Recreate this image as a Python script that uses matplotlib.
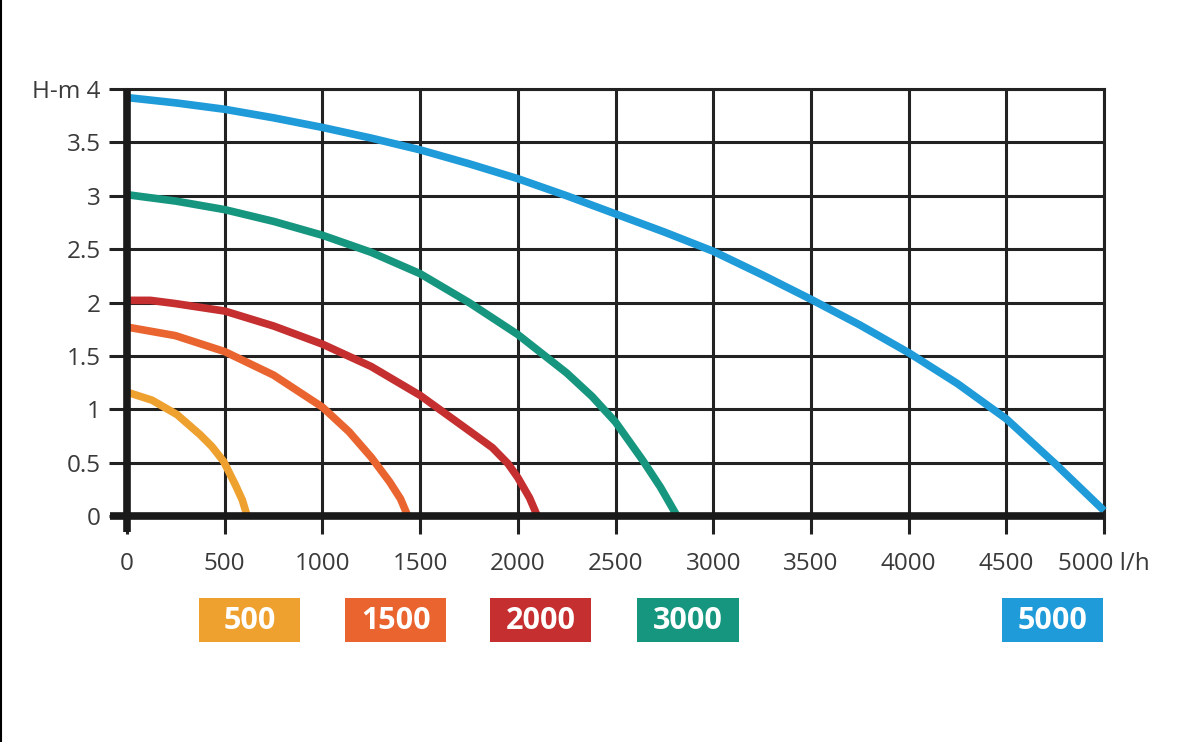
import matplotlib
matplotlib.use("Agg")
import matplotlib.pyplot as plt
import matplotlib.transforms as mtransforms
from matplotlib.patches import Rectangle
from matplotlib.lines import Line2D

plt.rcParams['font.family'] = ['Open Sans', 'DejaVu Sans']

# pump curves, flow in l/h, head in m
flow_500 = [0, 128, 256, 375, 435, 495, 555, 590, 615]
head_500 = [1.16, 1.085, 0.95, 0.76, 0.65, 0.51, 0.29, 0.15, 0.0]

flow_1500 = [0, 247, 500, 750, 1000, 1136, 1250, 1344, 1400, 1437]
head_1500 = [1.77, 1.69, 1.54, 1.32, 1.02, 0.79, 0.55, 0.32, 0.16, 0.0]

flow_2000 = [0, 120, 247, 500, 750, 1000, 1250, 1500, 1750, 1870, 1950, 2000, 2060, 2100]
head_2000 = [2.02, 2.02, 1.99, 1.92, 1.78, 1.61, 1.40, 1.13, 0.80, 0.64, 0.49, 0.36, 0.17, 0.0]

flow_3000 = [0, 250, 500, 750, 1000, 1250, 1500, 1750, 2000, 2250, 2380, 2500, 2640, 2730, 2815]
head_3000 = [3.01, 2.95, 2.87, 2.76, 2.63, 2.47, 2.27, 2.00, 1.70, 1.34, 1.12, 0.88, 0.52, 0.27, 0.0]

flow_5000 = [0, 250, 500, 750, 1000, 1250, 1500, 1750, 2000, 2250, 2500, 2750,
             3000, 3250, 3500, 3750, 4000, 4250, 4500, 4750, 5000]
head_5000 = [3.92, 3.87, 3.81, 3.73, 3.64, 3.54, 3.43, 3.30, 3.16, 3.00, 2.83, 2.66,
             2.48, 2.26, 2.03, 1.79, 1.53, 1.24, 0.91, 0.49, 0.05]

models = ['500', '1500', '2000', '3000', '5000']
colors = ['#EEA12F', '#E9642F', '#C52F2F', '#16967E', '#1E9BD8']
curves = [(flow_500, head_500), (flow_1500, head_1500), (flow_2000, head_2000),
          (flow_3000, head_3000), (flow_5000, head_5000)]
# centre of each legend box along the flow axis
box_centres = [629, 1376, 2118, 2871, 4734]

x_ticks = [0, 500, 1000, 1500, 2000, 2500, 3000, 3500, 4000, 4500, 5000]
x_labels = ['0', '500', '1000', '1500', '2000', '2500', '3000', '3500', '4000', '4500', '5000 l/h']
y_ticks = [0, 0.5, 1, 1.5, 2, 2.5, 3, 3.5, 4]
y_labels = ['0', '0.5', '1', '1.5', '2', '2.5', '3', '3.5', 'H-m 4']

grid_col = '#222222'

fig = plt.figure(figsize=(11.88, 7.42), dpi=100)
ax = fig.add_axes([127/1188, 1 - 516/742, 977/1188, 427/742])
ax.set_xlim(0, 5000)
ax.set_ylim(0, 4)

ax.set_xticks(x_ticks, x_labels)
ax.set_yticks(y_ticks, y_labels)
ax.grid(True, color=grid_col, lw=2.2, zorder=1)
ax.set_axisbelow(True)
ax.tick_params(direction='out', length=13, width=2.2, color=grid_col,
               labelsize=17.5, labelcolor='#3a3a3a')
ax.tick_params(axis='x', pad=13)
ax.tick_params(axis='y', pad=6)

for s in ['left', 'bottom']:
    ax.spines[s].set_visible(False)
for s in ['top', 'right']:
    ax.spines[s].set_linewidth(2.2)
    ax.spines[s].set_color(grid_col)

for (fx, hy), c in zip(curves, colors):
    ax.plot(fx, hy, color=c, lw=5.5, solid_capstyle='butt',
            solid_joinstyle='round', zorder=3, clip_on=False)

# thick axis lines, running past the origin
ax.plot([0, 0], [-0.15, 4], color='#1a1a1a', lw=5.5, solid_capstyle='butt',
        clip_on=False, zorder=4)
ax.plot([-87, 5000], [0, 0], color='#1a1a1a', lw=5.5, solid_capstyle='butt',
        clip_on=False, zorder=4)

# coloured model boxes under the axis
trans = mtransforms.blended_transform_factory(ax.transData, ax.transAxes)
box_w = 517
for name, c, xc in zip(models, colors, box_centres):
    ax.add_patch(Rectangle((xc - box_w/2, -0.295), box_w, 0.103, transform=trans,
                           facecolor=c, edgecolor='none', clip_on=False))
    ax.text(xc, -0.245, name, transform=trans, ha='center', va='center',
            color='white', fontsize=22, fontweight='bold')

fig.add_artist(Line2D([0.001, 0.001], [0, 1], transform=fig.transFigure,
                      color='black', lw=1.5))

plt.savefig('out.png', dpi=100)
